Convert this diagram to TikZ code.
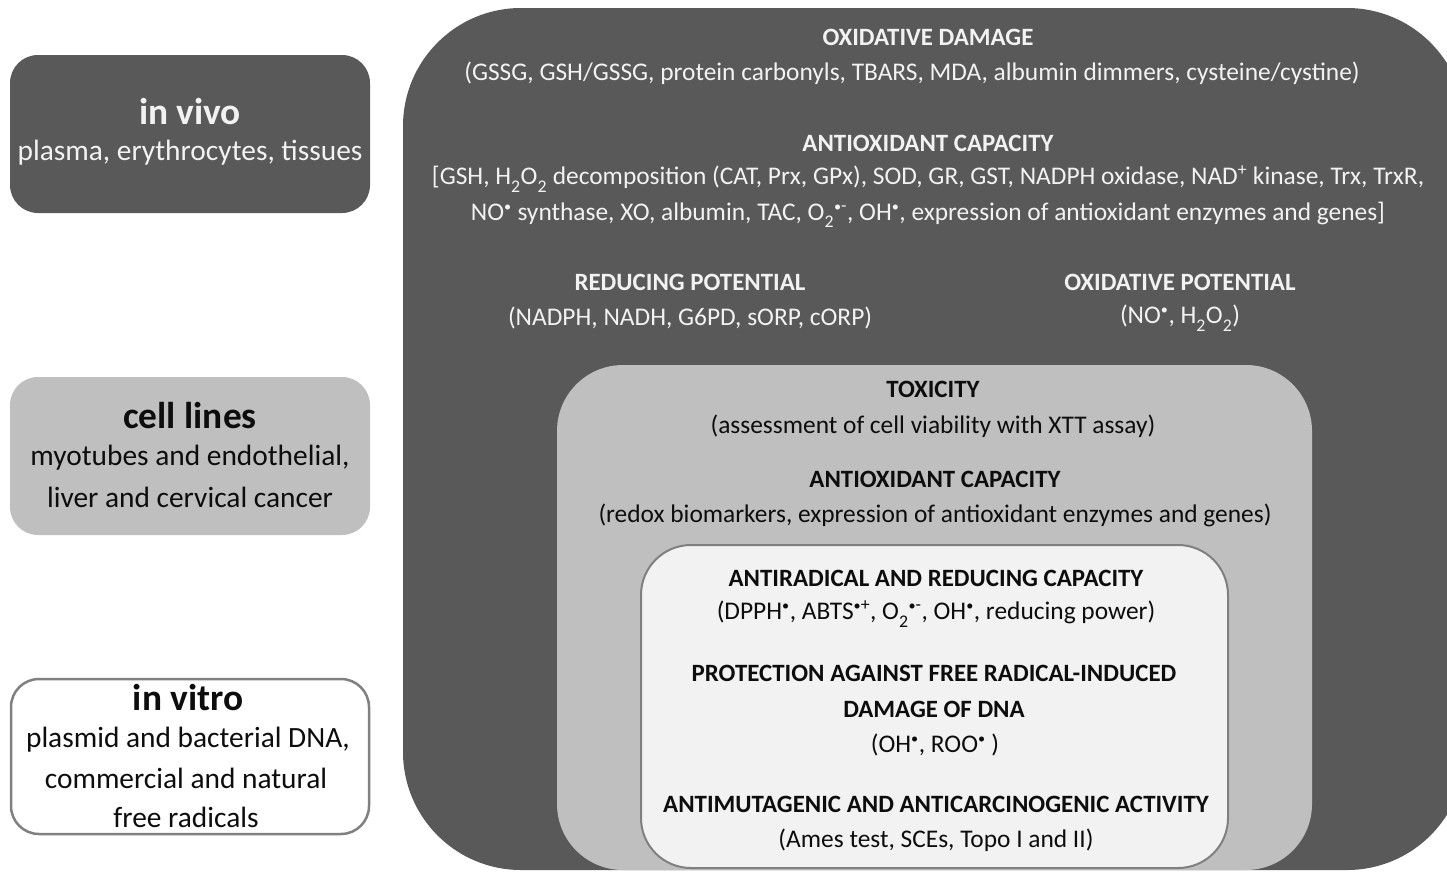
\documentclass[tikz,border=0pt]{standalone}
\usepackage{fontspec}
\usepackage{graphicx}
\setmainfont{Carlito}
\definecolor{darkbox}{HTML}{595959}
\definecolor{midbox}{HTML}{BFBFBF}
\definecolor{lightbox}{HTML}{F2F2F2}
\definecolor{edgegray}{HTML}{808080}
\definecolor{wtext}{HTML}{F2F2F2}
\definecolor{btext}{HTML}{0D0D0D}
\newcommand{\rad}{\textsuperscript{\scalebox{0.8}{•}}}
\newcommand{\supo}{\textsuperscript{\scalebox{0.8}{•}-}}
\newcommand{\supp}{\textsuperscript{\scalebox{0.8}{•}+}}
\newcommand{\sub}[1]{\raisebox{-0.15em}{\textsubscript{#1}}}
\begin{document}
\begin{tikzpicture}[x=1bp,y=-1bp,
  hd/.style={inner sep=0pt,font=\fontsize{25}{30}\selectfont\bfseries},
  bd/.style={inner sep=0pt,font=\fontsize{25.5}{30}\selectfont},
  ltitle/.style={inner sep=0pt,font=\fontsize{37.5}{44}\selectfont\bfseries},
  lbody/.style={inner sep=0pt,font=\fontsize{29.5}{35}\selectfont},
  onDark/.style={text=wtext},
  onLight/.style={text=btext}]
\useasboundingbox (0,0) rectangle (1447,872);
\fill[white] (0,0) rectangle (1447,872);
% main nested boxes
\fill[darkbox, rounded corners=118bp] (403,8) rectangle (1465,870);
\fill[midbox, rounded corners=66bp] (557,365) rectangle (1312,870);
\filldraw[fill=lightbox, draw=edgegray, line width=2bp, rounded corners=50bp] (641,545) rectangle (1228,868);
% left boxes
\fill[darkbox, rounded corners=28bp] (10,55) rectangle (370,213);
\fill[midbox, rounded corners=28bp] (10,377) rectangle (370,535);
\filldraw[fill=white, draw=edgegray, line width=2.5bp, rounded corners=28bp] (11,679) rectangle (369,834);
% left texts
\node[ltitle, onDark] (vivoT) at (190,112) {in vivo};
\node[lbody, onDark] (vivoB) at (190,153) {plasma, erythrocytes, tissues};
\node[ltitle, onLight] (cellT) at (190,416) {cell lines};
\node[lbody, onLight] (cellB1) at (190,458) {myotubes and endothelial,};
\node[lbody, onLight] (cellB2) at (190,497) {liver and cervical cancer};
\node[ltitle, onLight] (vitroT) at (188,698) {in vitro};
\node[lbody, onLight] (vitroB1) at (188,740) {plasmid and bacterial DNA,};
\node[lbody, onLight] (vitroB2) at (186,778) {commercial and natural};
\node[lbody, onLight] (vitroB3) at (186,817) {free radicals};
% dark box texts
\node[hd, onDark] (odT) at (928,37) {OXIDATIVE DAMAGE};
\node[bd, onDark] (odB) at (912,73) {(GSSG, GSH/GSSG, protein carbonyls, TBARS, MDA, albumin dimmers, cysteine/cystine)};
\node[hd, onDark] (acT) at (928,143) {ANTIOXIDANT CAPACITY};
\node[bd, onDark] (acB1) at (928,179) {[GSH, H\sub{2}O\sub{2} decomposition (CAT, Prx, GPx), SOD, GR, GST, NADPH oxidase, NAD\textsuperscript{+} kinase, Trx, TrxR,};
\node[bd, onDark] (acB2) at (928,215) {NO\rad{} synthase, XO, albumin, TAC, O\sub{2}\supo, OH\rad, expression of antioxidant enzymes and genes]};
\node[hd, onDark] (rpT) at (690,282) {REDUCING POTENTIAL};
\node[bd, onDark] (rpB) at (690,318) {(NADPH, NADH, G6PD, sORP, cORP)};
\node[hd, onDark] (opT) at (1180,282) {OXIDATIVE POTENTIAL};
\node[bd, onDark] (opB) at (1180,318) {(NO\rad, H\sub{2}O\sub{2})};
% mid box texts
\node[hd, onLight] (txT) at (933,389) {TOXICITY};
\node[bd, onLight] (txB) at (933,426) {(assessment of cell viability with XTT assay)};
\node[hd, onLight] (ac2T) at (935,479) {ANTIOXIDANT CAPACITY};
\node[bd, onLight] (ac2B) at (935,515) {(redox biomarkers, expression of antioxidant enzymes and genes)};
% inner box texts
\node[hd, onLight] (arT) at (936,578) {ANTIRADICAL AND REDUCING CAPACITY};
\node[bd, onLight] (arB) at (936,614) {(DPPH\rad, ABTS\supp, O\sub{2}\supo, OH\rad, reducing power)};
\node[hd, onLight] (prT1) at (934,673) {PROTECTION AGAINST FREE RADICAL-INDUCED};
\node[hd, onLight] (prT2) at (934,709) {DAMAGE OF DNA};
\node[bd, onLight] (prB) at (935,745) {(OH\rad, ROO\rad{} )};
\node[hd, onLight] (amT) at (936,804) {ANTIMUTAGENIC AND ANTICARCINOGENIC ACTIVITY};
\node[bd, onLight] (amB) at (936,840) {(Ames test, SCEs, Topo I and II)};
\end{tikzpicture}
\end{document}
